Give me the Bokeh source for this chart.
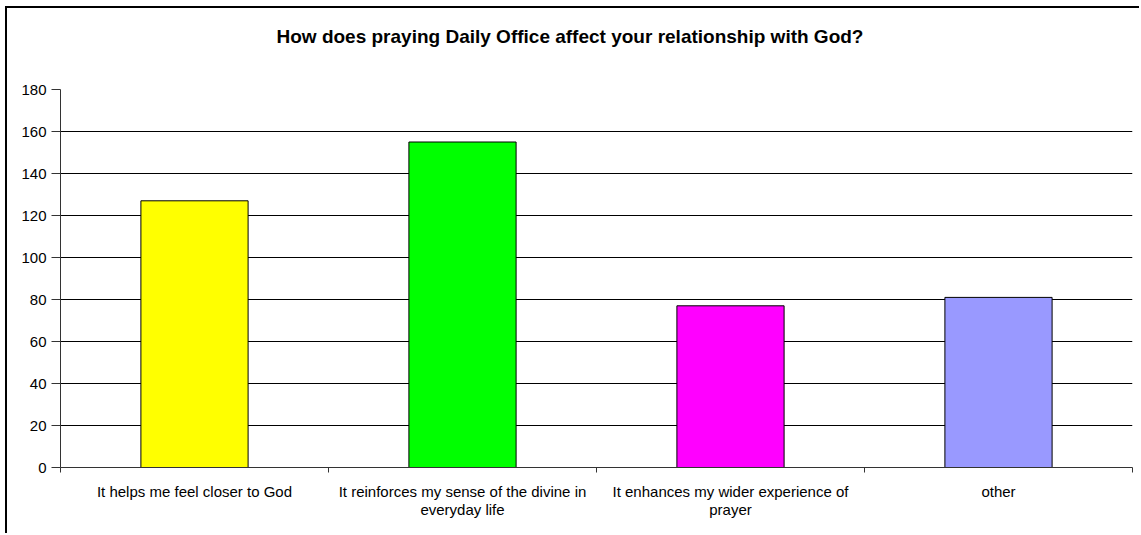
from bokeh.plotting import figure
from bokeh.models import ColumnDataSource, FixedTicker, Range1d, Title
from bokeh.embed import file_html
from bokeh.resources import INLINE

# ---- data ----
categories = [
    "It helps me feel closer to God",
    "It reinforces my sense of the divine in everyday life",
    "It enhances my wider experience of prayer",
    "other",
]
wrapped_labels = [
    "It helps me feel closer to God",
    "It reinforces my sense of the divine in\neveryday life",
    "It enhances my wider experience of\nprayer",
    "other",
]
counts = [127, 155, 77, 81]
colors = ["#FFFF00", "#00FF00", "#FF00FF", "#9999FF"]
y_ticks = [0, 20, 40, 60, 80, 100, 120, 140, 160, 180]
title_text = "How does praying Daily Office affect your relationship with God?"

FONT = "Liberation Sans"

n = len(categories)
centers = [i + 0.5 for i in range(n)]
bounds = [float(i) for i in range(n + 1)]

source = ColumnDataSource(dict(x=centers, count=counts, color=colors, cat=categories))

p = figure(
    width=1134, height=527,
    x_range=Range1d(0, n), y_range=Range1d(y_ticks[0], y_ticks[-1]),
    output_backend="svg", toolbar_location=None,
    min_border_left=53, min_border_right=9, min_border_top=81, min_border_bottom=68,
)
p.styles = {"box-shadow": "-2px -2px 0 0 #000",
            "margin-left": "7px", "margin-top": "8px"}

p.vbar(x="x", top="count", width=0.4, fill_color="color", line_color="#000000",
       line_width=1, source=source)

# spacer between frame and title (pushes the title up)
spacer = Title(text=" ", text_font_size="1px", standoff=37)
p.add_layout(spacer, "above")
t = Title(text=title_text, align="left", offset=216, text_font=FONT, text_font_size="19px",
          text_font_style="bold", text_color="#000000", standoff=6)
p.add_layout(t, "above")

p.outline_line_color = None
p.background_fill_color = "#FFFFFF"
p.border_fill_color = "#FFFFFF"

p.xgrid.visible = False
p.ygrid.grid_line_color = "#000000"
p.ygrid.grid_line_width = 1
p.ygrid.ticker = FixedTicker(ticks=y_ticks)

p.yaxis.ticker = FixedTicker(ticks=y_ticks)
p.yaxis.axis_line_color = "#333333"
p.yaxis.major_tick_line_color = "#333333"
p.yaxis.major_tick_in = 0
p.yaxis.major_tick_out = 9
p.yaxis.minor_tick_line_color = None
p.yaxis.major_label_text_font = FONT
p.yaxis.major_label_text_font_size = "15px"
p.yaxis.major_label_text_color = "#000000"
p.yaxis.major_label_standoff = 5

p.xaxis.ticker = FixedTicker(ticks=centers, minor_ticks=bounds)
p.xaxis.major_label_overrides = {c: lab for c, lab in zip(centers, wrapped_labels)}
p.xaxis.axis_line_color = "#333333"
p.xaxis.major_tick_line_color = None
p.xaxis.minor_tick_line_color = "#333333"
p.xaxis.minor_tick_in = 0
p.xaxis.minor_tick_out = 5
p.xaxis.major_label_text_font = FONT
p.xaxis.major_label_text_font_size = "15px"
p.xaxis.major_label_text_line_height = 1.1
p.xaxis.major_label_text_color = "#000000"
p.xaxis.major_label_standoff = 9

open("out.html", "w").write(file_html(p, INLINE))
